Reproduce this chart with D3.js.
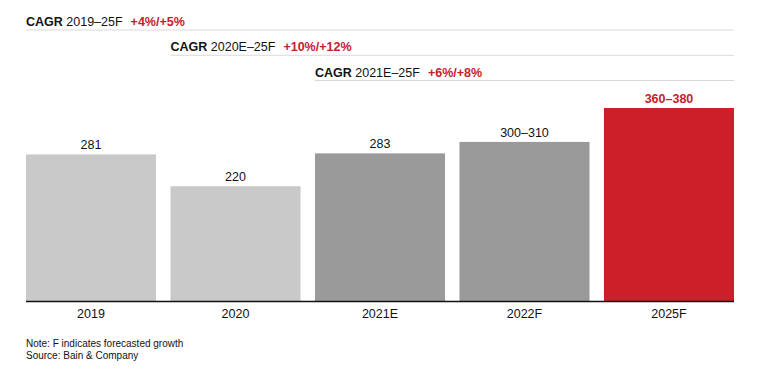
<!DOCTYPE html>
<html>
<head>
<meta charset="utf-8">
<script src="https://cdn.jsdelivr.net/npm/d3@7"></script>
<style>
  body { margin: 0; background: #fff; }
  svg { font-family: "Liberation Sans", Arial, sans-serif; }
</style>
</head>
<body>
<svg id="chart" width="760" height="379"></svg>
<script>
// data
var years = ['2019', '2020', '2021E', '2022F', '2025F']
var values = [281, 220, 283, 305, 370]           // bar heights (ranges drawn at midpoint)
var valueLabels = ['281', '220', '283', '300–310', '360–380']
var barColors = ['#c9c9c9', '#c9c9c9', '#9a9a9a', '#9a9a9a', '#cc1f29']

var cagrStart = ['2019', '2020', '2021E']        // row starts at this bar
var cagrPeriod = ['2019–25F', '2020E–25F', '2021E–25F']
var cagrValue = ['+4%/+5%', '+10%/+12%', '+6%/+8%']

var notes = ['Note: F indicates forecasted growth', 'Source: Bain & Company']

var red = '#c8202b'
var svg = d3.select('#chart')

var x = d3.scaleBand().domain(years).range([26, 734]).paddingInner(0.1).paddingOuter(0)
var y = d3.scaleLinear().domain([0, 370]).range([301, 108])

// bars
svg.selectAll('rect.bar').data(years).join('rect')
  .attr('class', 'bar')
  .attr('x', d => x(d))
  .attr('width', x.bandwidth())
  .attr('y', (d, i) => y(values[i]))
  .attr('height', (d, i) => y(0) - y(values[i]))
  .attr('fill', (d, i) => barColors[i])

// value labels
svg.selectAll('text.val').data(years).join('text')
  .attr('class', 'val')
  .attr('x', d => x(d) + x.bandwidth() / 2)
  .attr('y', (d, i) => y(values[i]) - 5)
  .attr('text-anchor', 'middle')
  .attr('font-size', 12.5)
  .attr('font-weight', (d, i) => i == 4 ? 'bold' : 'normal')
  .attr('fill', (d, i) => i == 4 ? red : '#111')
  .text((d, i) => valueLabels[i])

// baseline
svg.append('line')
  .attr('x1', x.range()[0]).attr('x2', x.range()[1])
  .attr('y1', y(0) + 0.5).attr('y2', y(0) + 0.5)
  .attr('stroke', '#111').attr('stroke-width', 1.5)

// category labels
svg.selectAll('text.cat').data(years).join('text')
  .attr('class', 'cat')
  .attr('x', d => x(d) + x.bandwidth() / 2)
  .attr('y', 318)
  .attr('text-anchor', 'middle')
  .attr('font-size', 12.5)
  .attr('fill', '#111')
  .text(d => d)

// CAGR rows
var rowY = d3.scalePoint().domain(cagrStart).range([30, 80.5])
var rows = svg.selectAll('g.cagr').data(cagrStart).join('g').attr('class', 'cagr')

rows.append('line')
  .attr('x1', d => x(d)).attr('x2', x.range()[1])
  .attr('y1', d => rowY(d)).attr('y2', d => rowY(d))
  .attr('stroke', '#d9d9d9').attr('stroke-width', 1.2)

var t = rows.append('text')
  .attr('x', d => x(d))
  .attr('y', d => rowY(d) - 4)
  .attr('font-size', 12.5)
  .attr('fill', '#111')
t.append('tspan').attr('font-weight', 'bold').text('CAGR')
t.append('tspan').text((d, i) => ' ' + cagrPeriod[i])
t.append('tspan').attr('dx', 8).attr('font-weight', 'bold').attr('fill', red)
  .text((d, i) => cagrValue[i])

// notes
svg.selectAll('text.note').data(notes).join('text')
  .attr('class', 'note')
  .attr('x', 26)
  .attr('y', (d, i) => 347 + i * 12)
  .attr('font-size', 10)
  .attr('fill', '#111')
  .text(d => d)
</script>
</body>
</html>
